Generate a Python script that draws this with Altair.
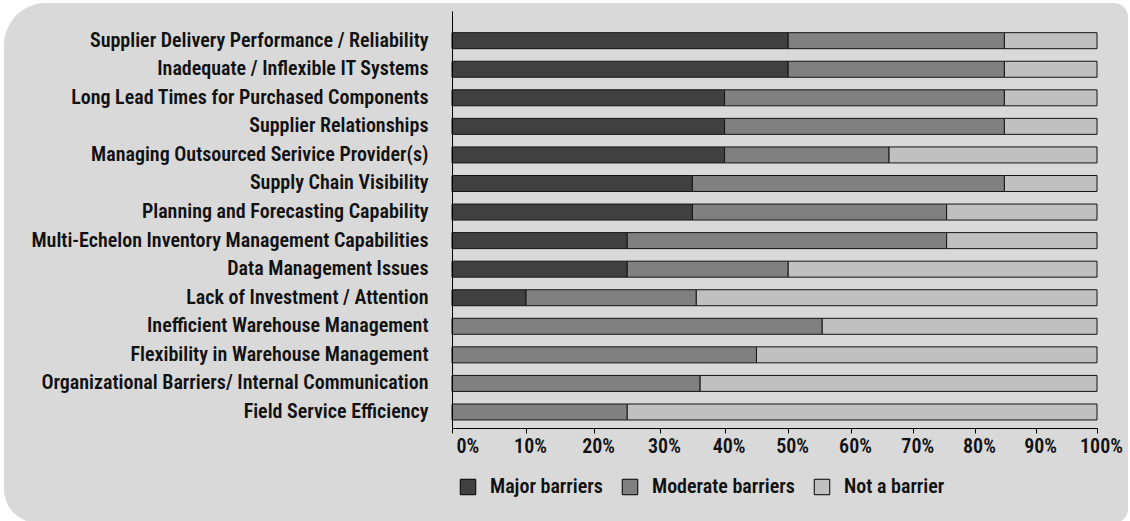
import altair as alt
import pandas as pd

categories = [
    "Supplier Delivery Performance / Reliability",
    "Inadequate / Inflexible IT Systems",
    "Long Lead Times for Purchased Components",
    "Supplier Relationships",
    "Managing Outsourced Serivice Provider(s)",
    "Supply Chain Visibility",
    "Planning and Forecasting Capability",
    "Multi-Echelon Inventory Management Capabilities",
    "Data Management Issues",
    "Lack of Investment / Attention",
    "Inefficient Warehouse Management",
    "Flexibility in Warehouse Management",
    "Organizational Barriers/ Internal Communication",
    "Field Service Efficiency",
]
major = [50, 50, 40, 40, 40, 35, 35, 25, 25, 10, 0, 0, 0, 0]
moderate = [34.8, 34.8, 44.8, 44.8, 26.1, 49.8, 40.4, 50.4, 25, 25.6, 55.4, 45, 36.2, 25]
not_barrier = [15.2, 15.2, 15.2, 15.2, 33.9, 15.2, 24.6, 24.6, 50, 64.4, 44.6, 55, 63.8, 75]

series = ["Major barriers", "Moderate barriers", "Not a barrier"]
colors = ["#404040", "#808080", "#c0c0c0"]
x_ticks = [0, 10, 20, 30, 40, 50, 60, 70, 80, 90, 100]

FONT = "Noto Sans Condensed, Roboto Condensed, Roboto"
FS = 20
FW = 600

rows = []
for i, cat in enumerate(categories):
    for k, vals in enumerate([major, moderate, not_barrier]):
        if vals[i] > 0:
            rows.append({"category": cat, "series": series[k], "value": vals[i], "idx": k})
df = pd.DataFrame(rows)

bg = alt.Chart(alt.Data(values=[{"a": 1}])).mark_rect(
    color="#d9d9d9",
    cornerRadiusTopLeft=42,
    cornerRadiusBottomLeft=34,
    cornerRadiusTopRight=14,
    cornerRadiusBottomRight=14,
).encode(
    x=alt.value(-448), x2=alt.value(676), y=alt.value(-8), y2=alt.value(512)
)

bars = alt.Chart(df).mark_bar(stroke="#141414", strokeWidth=1).encode(
    y=alt.Y(
        "category:N",
        sort=categories,
        scale=alt.Scale(paddingInner=0.44, paddingOuter=0.52, align=0.73),
        axis=alt.Axis(
            title=None, ticks=False, tickSize=0, labelPadding=24, domainColor="black",
            domainWidth=1, labelFontSize=FS, labelFont=FONT, labelFontWeight=FW,
            labelColor="#111111", labelLimit=600, zindex=2,
        ),
    ),
    x=alt.X(
        "value:Q",
        stack="zero",
        scale=alt.Scale(type="pow", exponent=0.94, domain=[0, 100], nice=False),
        axis=alt.Axis(
            title=None, values=x_ticks, labelExpr="datum.value + '%'", grid=False,
            tickSize=5, tickColor="black", domainColor="black", domainWidth=1,
            labelPadding=3, labelOffset=4, labelFontSize=FS, labelFont=FONT,
            labelFontWeight=FW, labelColor="#111111", zindex=2,
            labelAlign={"condition": {"test": "datum.value == 0", "value": "left"}, "value": "center"},
        ),
    ),
    color=alt.Color(
        "series:N",
        scale=alt.Scale(domain=series, range=colors),
        legend=alt.Legend(
            title=None, orient="none", legendX=6, legendY=466, direction="horizontal",
            symbolType="square", symbolSize=240, symbolStrokeColor="black",
            symbolStrokeWidth=1, symbolOpacity=1, labelFontSize=FS, labelFont=FONT,
            labelFontWeight=FW, labelColor="#111111", labelOffset=12, columnPadding=17,
            labelLimit=400,
        ),
    ),
    order=alt.Order("idx:Q"),
)

chart = alt.layer(bg, bars).properties(
    width=645,
    height=417,
    background="white",
    padding={"left": 452, "top": 11, "right": 33, "bottom": 93},
    autosize=alt.AutoSizeParams(type="none"),
).configure_view(stroke=None)

chart.save("out.html", embed_options={"renderer": "svg", "actions": False})
